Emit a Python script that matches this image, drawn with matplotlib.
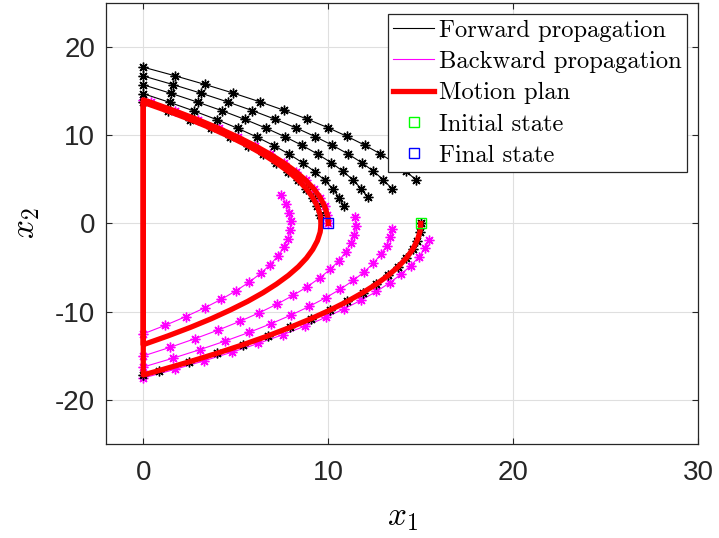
import matplotlib
matplotlib.use("Agg")
import matplotlib.pyplot as plt
from matplotlib.lines import Line2D

plt.rcParams['mathtext.fontset'] = 'cm'
plt.rcParams['axes.unicode_minus'] = False
plt.rcParams['font.family'] = ['Liberation Sans', 'DejaVu Sans']

# ---- forward propagation (black) ----
fwd_x1 = [
    [0, 1.72, 3.34, 4.87, 6.30, 7.63, 8.86, 9.99, 11.02, 11.96, 12.80, 13.54, 14.18, 14.73],
    [0, 1.62, 3.14, 4.57, 5.90, 7.13, 8.26, 9.29, 10.22, 11.06, 11.80, 12.44, 12.98, 13.43],
    [0, 1.52, 2.94, 4.27, 5.50, 6.63, 7.66, 8.59, 9.42, 10.16, 10.80, 11.34, 11.78, 12.13],
    [0, 1.42, 2.74, 3.97, 5.10, 6.13, 7.06, 7.89, 8.62, 9.26, 9.80, 10.24, 10.58, 10.83],
    [0, 1.32, 2.55, 3.68, 4.70, 5.64, 6.47, 7.20, 7.84, 8.38, 8.82, 9.16, 9.41, 9.56],
    [15.00, 14.95, 14.80, 14.56, 14.22, 13.78, 13.24, 12.60, 11.86, 11.03, 10.10,
     9.07, 7.94, 6.72, 5.40, 3.98, 2.46, 0.84, 0.0],
]
fwd_x2 = [
    [17.7, 16.72, 15.74, 14.76, 13.78, 12.80, 11.82, 10.84, 9.86, 8.88, 7.90, 6.92, 5.94, 4.96],
    [16.7, 15.72, 14.74, 13.76, 12.78, 11.80, 10.82, 9.84, 8.86, 7.88, 6.90, 5.92, 4.94, 3.96],
    [15.7, 14.72, 13.74, 12.76, 11.78, 10.80, 9.82, 8.84, 7.86, 6.88, 5.90, 4.92, 3.94, 2.96],
    [14.7, 13.72, 12.74, 11.76, 10.78, 9.80, 8.82, 7.84, 6.86, 5.88, 4.90, 3.92, 2.94, 1.96],
    [13.72, 12.74, 11.76, 10.78, 9.80, 8.82, 7.84, 6.86, 5.88, 4.90, 3.92, 2.94, 1.96, 0.98],
    [0, -0.98, -1.96, -2.94, -3.92, -4.90, -5.88, -6.86, -7.84, -8.82, -9.80,
     -10.78, -11.76, -12.74, -13.72, -14.70, -15.68, -16.66, -17.15],
]

# ---- backward propagation (magenta) ----
bwd_x1 = [
    [10.0, 9.95, 9.80, 9.56, 9.22, 8.78, 8.24, 7.60, 6.86, 6.03, 5.10, 4.07, 2.94, 1.72, 0.40, 0.0],
    [0, 1.20, 2.30, 3.31, 4.22, 5.03, 5.74, 6.35, 6.86, 7.28, 7.60, 7.82, 7.94, 7.97, 7.90, 7.73, 7.46],
    [0, 1.45, 2.80, 4.06, 5.22, 6.28, 7.24, 8.10, 8.86, 9.53, 10.10, 10.57, 10.94, 11.22, 11.40, 11.48, 11.46],
    [0, 1.58, 3.05, 4.43, 5.72, 6.90, 7.99, 8.97, 9.86, 10.66, 11.35, 11.95, 12.44, 12.84, 13.15, 13.35, 13.46],
    [0, 1.70, 3.30, 4.81, 6.22, 7.53, 8.74, 9.85, 10.86, 11.78, 12.60, 13.32, 13.94, 14.47, 14.90, 15.23, 15.46],
]
bwd_x2 = [
    [0, 0.98, 1.96, 2.94, 3.92, 4.90, 5.88, 6.86, 7.84, 8.82, 9.80, 10.78, 11.76, 12.74, 13.72, 14.0],
    [-12.5, -11.52, -10.54, -9.56, -8.58, -7.60, -6.62, -5.64, -4.66, -3.68, -2.70, -1.72, -0.74, 0.24, 1.22, 2.20, 3.18],
    [-15.0, -14.02, -13.04, -12.06, -11.08, -10.10, -9.12, -8.14, -7.16, -6.18, -5.20, -4.22, -3.24, -2.26, -1.28, -0.30, 0.68],
    [-16.25, -15.27, -14.29, -13.31, -12.33, -11.35, -10.37, -9.39, -8.41, -7.43, -6.45, -5.47, -4.49, -3.51, -2.53, -1.55, -0.57],
    [-17.5, -16.52, -15.54, -14.56, -13.58, -12.60, -11.62, -10.64, -9.66, -8.68, -7.70, -6.72, -5.74, -4.76, -3.78, -2.80, -1.82],
]

# ---- motion plan (red): fall, bounce, arc, bounce, arc ----
plan_x1 = [15.0, 14.99, 14.95, 14.80, 14.56, 14.22, 13.78, 13.24, 12.60, 11.86, 11.03, 10.10,
           9.07, 7.94, 6.72, 5.40, 3.98, 2.46, 0.84, 0.0,
           0.0, 1.32, 2.55, 3.68, 4.70, 5.64, 6.47, 7.20, 7.84, 8.38, 8.82, 9.16, 9.41, 9.56,
           9.59, 9.60, 9.59, 9.56, 9.41, 9.16, 8.82, 8.38, 7.84, 7.20, 6.47, 5.64, 4.70,
           3.68, 2.55, 1.32, 0.0,
           0.0, 0.40, 1.72, 2.94, 4.07, 5.10, 6.03, 6.86, 7.60, 8.24, 8.78, 9.22, 9.56,
           9.80, 9.95, 9.99, 10.0]
plan_x2 = [0.0, -0.49, -0.98, -1.96, -2.94, -3.92, -4.90, -5.88, -6.86, -7.84, -8.82, -9.80,
           -10.78, -11.76, -12.74, -13.72, -14.70, -15.68, -16.66, -17.15,
           13.72, 12.74, 11.76, 10.78, 9.80, 8.82, 7.84, 6.86, 5.88, 4.90, 3.92, 2.94, 1.96, 0.98,
           0.49, 0.0, -0.49, -0.98, -1.96, -2.94, -3.92, -4.90, -5.88, -6.86, -7.84, -8.82, -9.80,
           -10.78, -11.76, -12.74, -13.72,
           14.0, 13.72, 12.74, 11.76, 10.78, 9.80, 8.82, 7.84, 6.86, 5.88, 4.90, 3.92, 2.94,
           1.96, 0.98, 0.49, 0.0]

init_state = (15.0, 0.0)
final_state = (10.0, 0.0)

fig = plt.figure(figsize=(7.19, 5.38), dpi=100)
ax = fig.add_axes([0.1478, 0.1742, 0.8234, 0.8208])

star = (8, 2, 0)
for xs, ys in zip(bwd_x1, bwd_x2):
    ax.plot(xs, ys, color='magenta', lw=0.8, marker=star, ms=7, mew=1.0, zorder=2)
for xs, ys in zip(fwd_x1, fwd_x2):
    ax.plot(xs, ys, color='black', lw=0.8, marker=star, ms=7, mew=1.0, zorder=3)
ax.plot(plan_x1, plan_x2, color='red', lw=3.8, solid_joinstyle='round', zorder=4)
ax.plot(*init_state, 's', mfc='none', mec=(0, 1, 0), ms=7.5, mew=1.0, zorder=5)
ax.plot(*final_state, 's', mfc='none', mec='blue', ms=7.5, mew=1.0, zorder=5)

ax.set_xlim(-2, 30)
ax.set_ylim(-25, 25)
ax.set_xticks([0, 10, 20, 30])
ax.set_yticks([-20, -10, 0, 10, 20])
ax.grid(True, color='#dfdfdf', lw=0.8)
ax.set_axisbelow(True)
ax.tick_params(direction='in', top=True, right=True, length=4, width=0.8,
               labelsize=20, colors='#262626', pad=8)
ax.tick_params(axis='x', pad=11)
for s in ax.spines.values():
    s.set_color('#262626')
    s.set_linewidth(0.9)

ax.set_xlabel(r'$x_1$', fontsize=24, labelpad=12)
ax.set_ylabel(r'$x_2$', fontsize=24, labelpad=9)

handles = [
    Line2D([], [], color='black', lw=0.8),
    Line2D([], [], color='magenta', lw=0.8),
    Line2D([], [], color='red', lw=3.8),
    Line2D([], [], ls='none', marker='s', mfc='none', mec=(0, 1, 0), ms=7.5),
    Line2D([], [], ls='none', marker='s', mfc='none', mec='blue', ms=7.5),
]
labels = ['Forward propagation', 'Backward propagation', 'Motion plan',
          'Initial state', 'Final state']
leg = ax.legend(handles, labels, loc='upper right', bbox_to_anchor=(0.981, 0.974),
                borderaxespad=0, prop={'family': 'cmr10', 'size': 17.7},
                fancybox=False, framealpha=1, edgecolor='#262626',
                handlelength=1.67, handletextpad=0.18, labelspacing=0.37,
                borderpad=0.22)
leg.get_frame().set_linewidth(0.9)

fig.savefig('out.png', dpi=100)
